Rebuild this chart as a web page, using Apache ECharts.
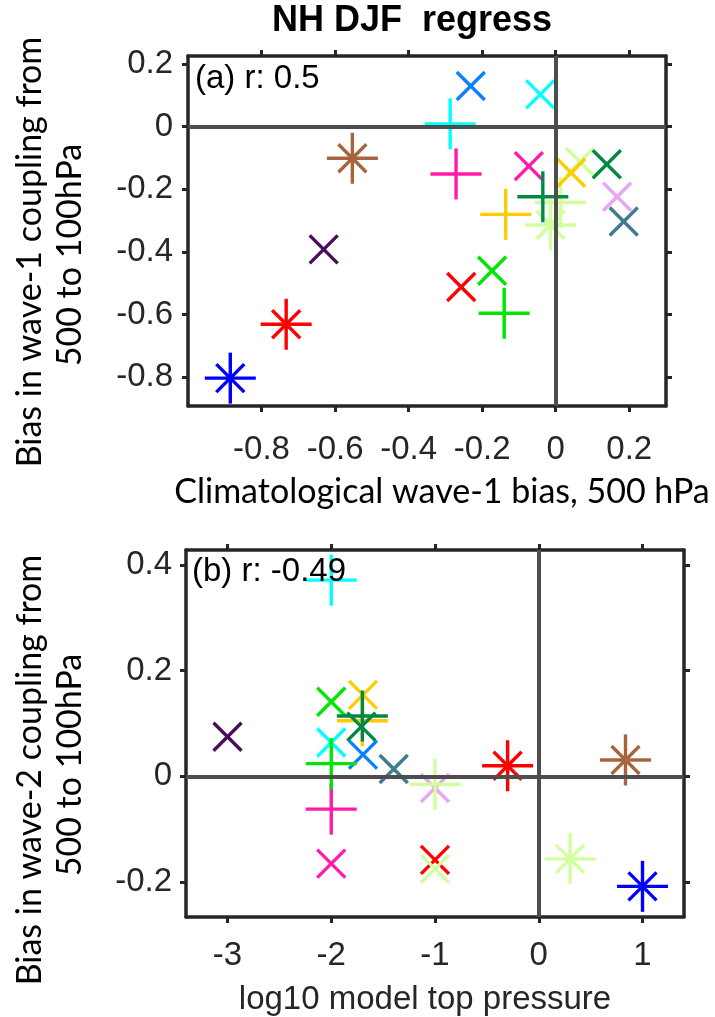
<!DOCTYPE html>
<html>
<head>
<meta charset="utf-8">
<script src="https://cdn.jsdelivr.net/npm/echarts@6/dist/echarts.min.js"></script>
<style>
html,body{margin:0;padding:0;background:#fff;}
#chart{width:715px;height:1017px;}
</style>
</head>
<body>
<div id="chart"></div>
<script>
// ---- data ----
const modelMarkers = ['*','*','*','x','x','x','+','+','x','x','x','+','x','x','x','+','*','x','+','x','+'];
const modelColors = ['#0000FF','#FF0000','#A8643C','#4B0A5A','#0A80FF','#00FFFF','#00FFFF','#FF1AAA','#FF1AAA','#FF0000','#00E600','#00E600','#3F7C8C','#E6A6F5','#D2FF9E','#D2FF9E','#D2FF9E','#FFCC00','#FFCC00','#008844','#008844'];
// panel (a)
const wave1Bias = [-0.885,-0.733,-0.553,-0.631,-0.231,-0.042,-0.287,-0.271,-0.073,-0.257,-0.173,-0.140,0.185,0.167,0.066,0.013,-0.014,0.042,-0.136,0.139,-0.035];
const wave1Coupling = [-0.803,-0.631,-0.101,-0.392,0.130,0.103,0.009,-0.151,-0.126,-0.512,-0.460,-0.596,-0.303,-0.224,-0.112,-0.242,-0.314,-0.147,-0.280,-0.120,-0.224];
// panel (b)
const log10TopPressure = [1.0,-0.30,0.836,-3.0,-1.694,-2.0,-2.0,-2.0,-2.0,-1.0,-2.0,-2.0,-1.398,-1.0,-1.0,-1.0,0.302,-1.694,-1.70,-1.71,-1.70];
const wave2Coupling = [-0.208,0.020,0.031,0.075,0.041,0.064,0.371,-0.062,-0.165,-0.158,0.141,0.024,0.014,-0.022,-0.175,-0.015,-0.156,0.154,0.105,0.094,0.114];
const xTicksA = [-0.8,-0.6,-0.4,-0.2,0,0.2];
const yTicksA = [-0.8,-0.6,-0.4,-0.2,0,0.2];
const xTicksB = [-3,-2,-1,0,1];
const yTicksB = [-0.2,0,0.2,0.4];

const chart = echarts.init(document.getElementById('chart'));
const TXT = '#262626';
const tickFont = {color:TXT,fontSize:33,fontFamily:'Liberation Sans, Arial, sans-serif'};

function axis(kind, grid, pos, min, max, ticks, showLabel, margin){
  return {
    type:'value', gridIndex:grid, position:pos, min:min, max:max,
    axisLine:{show:true, onZero:false, lineStyle:{color:TXT,width:3.5}},
    axisTick:{show:true, inside:false, length:6, lineStyle:{color:TXT,width:3}, customValues:ticks},
    axisLabel:Object.assign({show:showLabel, margin:margin, customValues:ticks, formatter:v=>String(+v.toFixed(2))}, tickFont),
    splitLine:{show:false}
  };
}

function renderMarker(params, api){
  const idx = api.value(2);
  const c = api.coord([api.value(0), api.value(1)]);
  const col = modelColors[idx];
  const m = modelMarkers[idx];
  const st = {stroke:col, lineWidth:3.4, lineCap:'butt', fill:null};
  const kids = [];
  const P = 25.5, X = 14;
  if (m === '+' || m === '*') {
    kids.push({type:'line', shape:{x1:c[0]-P,y1:c[1],x2:c[0]+P,y2:c[1]}, style:st});
    kids.push({type:'line', shape:{x1:c[0],y1:c[1]-P,x2:c[0],y2:c[1]+P}, style:st});
  }
  if (m === 'x' || m === '*') {
    kids.push({type:'line', shape:{x1:c[0]-X,y1:c[1]-X,x2:c[0]+X,y2:c[1]+X}, style:st});
    kids.push({type:'line', shape:{x1:c[0]-X,y1:c[1]+X,x2:c[0]+X,y2:c[1]-X}, style:st});
  }
  return {type:'group', children:kids};
}

const dataA = wave1Bias.map((v,i)=>[v, wave1Coupling[i], i]);
const dataB = log10TopPressure.map((v,i)=>[v, wave2Coupling[i], i]);

const zeroLines = {
  silent:true, symbol:'none', label:{show:false},
  lineStyle:{color:'#4D4D4D', width:4, type:'solid'},
  data:[{xAxis:0},{yAxis:0}]
};

const titleFont = '34px Lato, sans-serif';
const option = {
  backgroundColor:'#ffffff',
  animation:false,
  grid:[
    {left:188, top:56, width:478, height:350},
    {left:186, top:550, width:498, height:367}
  ],
  xAxis:[
    axis('x',0,'bottom',-1,0.3,xTicksA,true,27),
    axis('x',0,'top',-1,0.3,xTicksA,false,8),
    axis('x',1,'bottom',-3.4,1.4,xTicksB,true,22),
    axis('x',1,'top',-3.4,1.4,xTicksB,false,8)
  ],
  yAxis:[
    axis('y',0,'left',-0.892,0.2256,yTicksA,true,15),
    axis('y',0,'right',-0.892,0.2256,yTicksA,false,8),
    axis('y',1,'left',-0.266,0.428,yTicksB,true,14),
    axis('y',1,'right',-0.266,0.428,yTicksB,false,8)
  ],
  series:[
    {type:'custom', coordinateSystem:'cartesian2d', xAxisIndex:0, yAxisIndex:0, data:dataA, renderItem:renderMarker, z:2, clip:false},
    {type:'scatter', xAxisIndex:0, yAxisIndex:0, data:[], symbolSize:0, z:5, markLine:zeroLines},
    {type:'custom', coordinateSystem:'cartesian2d', xAxisIndex:2, yAxisIndex:2, data:dataB, renderItem:renderMarker, z:2, clip:false},
    {type:'scatter', xAxisIndex:2, yAxisIndex:2, data:[], symbolSize:0, z:5, markLine:zeroLines}
  ],
  graphic:[
    {type:'text', x:412, y:21, style:{text:'NH DJF  regress', font:'bold 36px "Liberation Sans", Arial, sans-serif', fill:'#000', textAlign:'center', textVerticalAlign:'middle'}},
    {type:'text', x:195, y:79, z:10, style:{text:'(a) r: 0.5', font:'33px "Liberation Sans", Arial, sans-serif', fill:'#000', textAlign:'left', textVerticalAlign:'middle'}},
    {type:'text', x:192, y:572, z:10, style:{text:'(b) r: -0.49', font:'33px "Liberation Sans", Arial, sans-serif', fill:'#000', textAlign:'left', textVerticalAlign:'middle'}},
    {type:'text', x:30, y:252, rotation:Math.PI/2, style:{text:'Bias in wave-1 coupling from', font:titleFont, fill:'#000', textAlign:'center', textVerticalAlign:'middle'}},
    {type:'text', x:70, y:255, rotation:Math.PI/2, style:{text:'500 to 100hPa', font:titleFont, fill:'#000', textAlign:'center', textVerticalAlign:'middle'}},
    {type:'text', x:442, y:492, style:{text:'Climatological wave-1 bias, 500 hPa', font:titleFont, fill:'#000', textAlign:'center', textVerticalAlign:'middle'}},
    {type:'text', x:30, y:770, rotation:Math.PI/2, style:{text:'Bias in wave-2 coupling from', font:titleFont, fill:'#000', textAlign:'center', textVerticalAlign:'middle'}},
    {type:'text', x:70, y:765, rotation:Math.PI/2, style:{text:'500 to 100hPa', font:titleFont, fill:'#000', textAlign:'center', textVerticalAlign:'middle'}},
    {type:'text', x:425, y:1000, style:{text:'log10 model top pressure', font:'33px "Liberation Sans", Arial, sans-serif', fill:'#262626', textAlign:'center', textVerticalAlign:'middle'}}
  ]
};
chart.setOption(option);
</script>
</body>
</html>
